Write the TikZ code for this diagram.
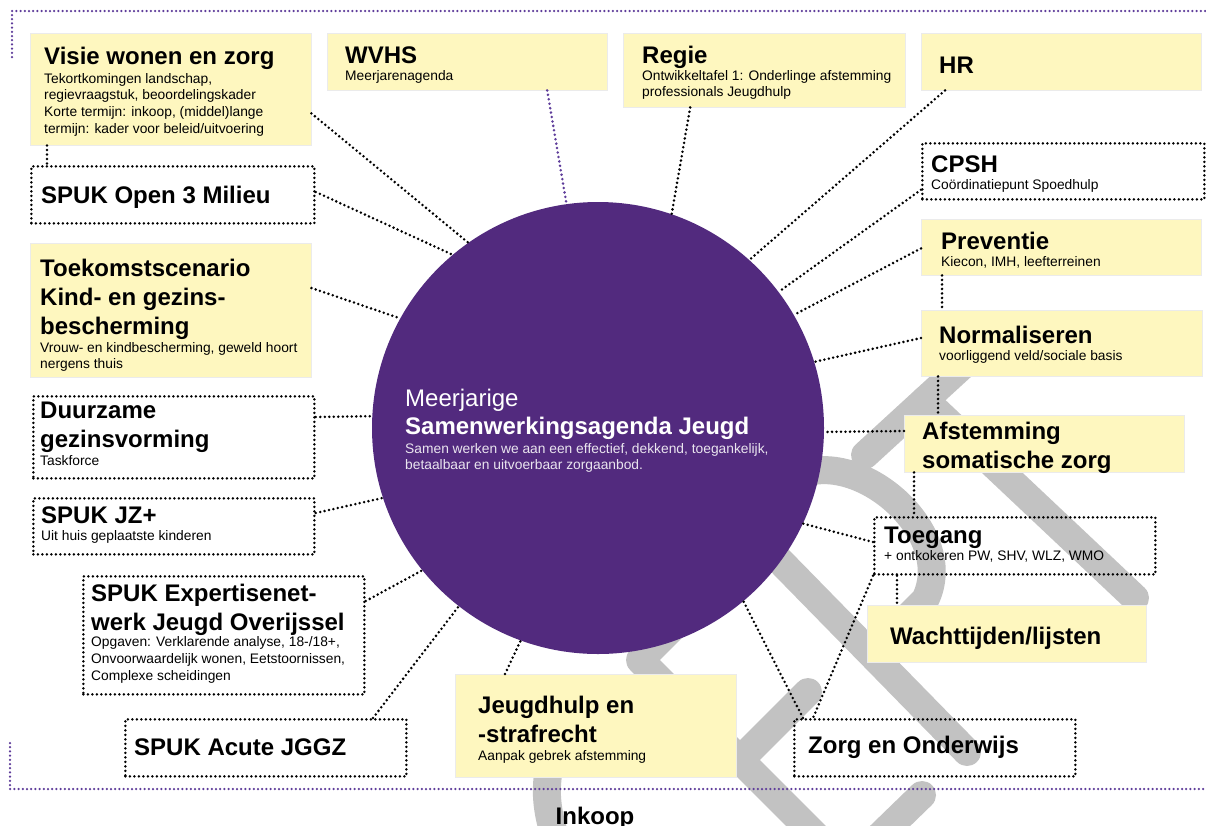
\documentclass[tikz,border=0pt]{standalone}
\usepackage{fontspec}
\setmainfont{Liberation Sans}
\usetikzlibrary{calc}
\definecolor{ylw}{HTML}{FEF7BF}
\definecolor{prp}{HTML}{522A7E}
\definecolor{prpline}{HTML}{5E3C9A}
\definecolor{wm}{HTML}{C2C2C2}
\newcommand\hdf{\fontsize{24}{29}\selectfont\bfseries}
\newcommand\sbf{\fontsize{13.8}{16.8}\selectfont}
\begin{document}
\begin{tikzpicture}[x=1pt,y=-1pt,
  ybox/.style={fill=ylw, draw=black!8, line width=0.4pt, inner sep=0, anchor=north west},
  dbox/.style={draw=black, line width=2.8pt, dash pattern=on 0pt off 4.5pt, line cap=round, inner sep=0, anchor=north west},
  conn/.style={draw=black, line width=2.8pt, dash pattern=on 0pt off 4.5pt, line cap=round},
  pconn/.style={draw=prpline, line width=2.5pt, dash pattern=on 0pt off 4.2pt, line cap=round},
  hd/.style={anchor=base west, inner sep=0, align=left, font=\hdf},
  sb/.style={anchor=base west, inner sep=0, align=left, font=\sbf},
  wmk/.style={draw=wm, line width=28pt, line cap=round, line join=round}
]
\useasboundingbox (0,0) rectangle (1206,825);
\clip (0,0) rectangle (1206,825);
\fill[white] (0,0) rectangle (1206,825);

% watermark
\draw[wmk] (865,455) -- (985,345);
\draw[wmk] (925,400) -- (1135,598);
\draw[wmk] (740,520) -- (967,752);
\draw[wmk] (748,510) -- (790,480) .. controls (850,440) and (960,530) .. (925,600) -- (875,650);
\draw[wmk] (720,580) -- (640,660) -- (870,890);
\draw[wmk] (745,755) -- (808,692);
\draw[wmk] (855,860) -- (922,795);
\draw[wmk] (580,700) .. controls (540,760) and (540,800) .. (560,850);

% frame
\draw[pconn] (12,57) -- (12,11) -- (1206,11);
\draw[pconn] (10,743) -- (10,789) -- (1206,789);

% boxes
\node[ybox, minimum width=281, minimum height=112] (visie) at (30,33) {};
\node[ybox, minimum width=280, minimum height=57] (wvhs) at (327,33) {};
\node[ybox, minimum width=282, minimum height=74] (regie) at (623,33) {};
\node[ybox, minimum width=280, minimum height=57] (hr) at (921,33) {};
\node[dbox, minimum width=282, minimum height=56] (cpsh) at (921,142) {};
\node[ybox, minimum width=280, minimum height=56] (prev) at (921,219) {};
\node[ybox, minimum width=281, minimum height=66] (norm) at (921,310) {};
\node[ybox, minimum width=280, minimum height=57] (afst) at (904,415) {};
\node[dbox, minimum width=281, minimum height=57] (toeg) at (873,516) {};
\node[ybox, minimum width=279, minimum height=57] (wacht) at (867,605) {};
\node[dbox, minimum width=281, minimum height=57] (zorg) at (793,718) {};
\node[ybox, minimum width=281, minimum height=103] (jeugd) at (455,674) {};
\node[dbox, minimum width=281, minimum height=57] (acute) at (124,718) {};
\node[dbox, minimum width=281, minimum height=118] (expert) at (82,575) {};
\node[dbox, minimum width=281, minimum height=56] (jz) at (32,497) {};
\node[dbox, minimum width=281, minimum height=82] (duur) at (32,395) {};
\node[ybox, minimum width=281, minimum height=134] (toek) at (30,243) {};
\node[dbox, minimum width=283, minimum height=57] (open) at (30,165) {};

% circle
\node[circle, fill=prp, minimum size=452, inner sep=0] (c) at (598,428) {};

% connectors
\draw[conn] ([yshift=32]visie.south east) -- (c.125);
\draw[pconn, line width=2.8pt, dash pattern=on 0pt off 4.5pt] ([xshift=80]wvhs.south) -- (c.98);
\draw[conn] ([xshift=-74]regie.south) -- (c.71);
\draw[conn] ([xshift=24]hr.south west) -- (c.48);
\draw[conn] ([yshift=11]cpsh.south west) -- (c.37);
\draw[conn] ([yshift=27]prev.south west) -- (c.30);
\draw[conn] ([yshift=-28]norm.north west) -- (c.17);
\draw[conn] ([yshift=-16]afst.north west) -- (c.-1);
\draw[conn] ([yshift=-26]toeg.north west) -- (c.-25);
\draw[conn] ([xshift=10]zorg.north west) -- (c.-50);
\draw[conn] (toeg.south west) -- ([xshift=20]zorg.north west);
\draw[conn] ([xshift=24]toeg.south west) -- ([xshift=30]wacht.north west);
\draw[conn] ([xshift=10]afst.south west) -- ([xshift=41]toeg.north west);
\draw[conn] ([xshift=17]norm.south west) -- ([xshift=34]afst.north west);
\draw[conn] ([xshift=21]prev.south west) -- ([xshift=21]norm.north west);
\draw[conn] ([xshift=50]jeugd.north west) -- (c.-110);
\draw[conn] ([xshift=249]acute.north west) -- (c.-128);
\draw[conn] ([yshift=-26]expert.north east) -- (c.219);
\draw[conn] ([yshift=-16]jz.north east) -- (c.198);
\draw[conn] ([yshift=-22]duur.north east) -- (c.177);
\draw[conn] ([yshift=-45]toek.north east) -- (c.151);
\draw[conn] ([yshift=-27]open.north east) -- (c.130);
\draw[conn] ([xshift=17]visie.south west) -- ([xshift=17]open.north west);

% texts (multi-line nodes are placed by their last baseline)
\node[hd] (visieH) at (44,64) {Visie wonen en zorg};
\node[sb] (visieS) at (44,133.4) {Tekortkomingen landschap,\\regievraagstuk, beoordelingskader\\Korte termijn: inkoop, (middel)lange\\termijn: kader voor beleid/uitvoering};
\node[hd] (wvhsH) at (345,63) {WVHS};
\node[sb] (wvhsS) at (345,80) {Meerjarenagenda};
\node[hd] (regieH) at (642,63) {Regie};
\node[sb] (regieS) at (642,96.8) {Ontwikkeltafel 1: Onderlinge afstemming\\professionals Jeugdhulp};
\node[hd] (hrH) at (939,73) {HR};
\node[hd] (cpshH) at (931,172) {CPSH};
\node[sb] (cpshS) at (931,189) {Coördinatiepunt Spoedhulp};
\node[hd] (prevH) at (941,249) {Preventie};
\node[sb] (prevS) at (941,266) {Kiecon, IMH, leefterreinen};
\node[hd] (normH) at (939,343) {Normaliseren};
\node[sb] (normS) at (939,360) {voorliggend veld/sociale basis};
\node[hd] (afstH) at (922,468) {Afstemming\\somatische zorg};
\node[hd] (toegH) at (884,543) {Toegang};
\node[sb] (toegS) at (884,560) {+ ontkokeren PW, SHV, WLZ, WMO};
\node[hd] (wachtH) at (890,644) {Wachttijden/lijsten};
\node[hd] (zorgH) at (808,753) {Zorg en Onderwijs};
\node[hd] (jeugdH) at (478,742) {Jeugdhulp en\\-strafrecht};
\node[sb] (jeugdS) at (478,760) {Aanpak gebrek afstemming};
\node[hd] (acuteH) at (134,755) {SPUK Acute JGGZ};
\node[hd] (expertH) at (91,630) {SPUK Expertisenet-\\werk Jeugd Overijssel};
\node[sb] (expertS) at (91,680) {Opgaven: Verklarende analyse, 18-/18+,\\Onvoorwaardelijk wonen, Eetstoornissen,\\Complexe scheidingen};
\node[hd] (jzH) at (41,523) {SPUK JZ+};
\node[sb] (jzS) at (41,540) {Uit huis geplaatste kinderen};
\node[hd] (duurH) at (40,447) {Duurzame\\gezinsvorming};
\node[sb] (duurS) at (40,465) {Taskforce};
\node[hd] (toekH) at (40,334) {Toekomstscenario\\Kind- en gezins-\\bescherming};
\node[sb] (toekS) at (40,368.8) {Vrouw- en kindbescherming, geweld hoort\\nergens thuis};
\node[hd] (openH) at (41,203) {SPUK Open 3 Milieu};

\node[anchor=base west, inner sep=0, font=\fontsize{24}{29}\selectfont, text=white] (cM) at (405,406) {Meerjarige};
\node[hd, text=white] (cS) at (405,434) {Samenwerkingsagenda Jeugd};
\node[sb, font=\fontsize{13.8}{16}\selectfont, text=white!88!prp] (cD) at (405,469) {Samen werken we aan een effectief, dekkend, toegankelijk,\\betaalbaar en uitvoerbaar zorgaanbod.};

\node[anchor=base, inner sep=0, font=\hdf] (inkoop) at (595,824) {Inkoop};
\end{tikzpicture}
\end{document}
